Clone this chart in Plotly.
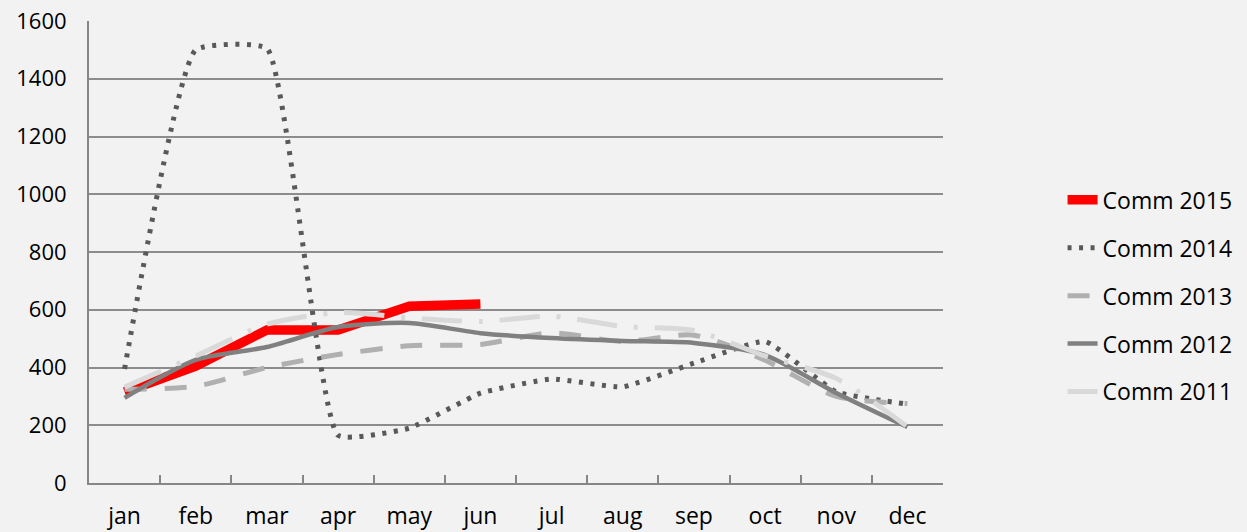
import plotly.graph_objects as go

months = ["jan", "feb", "mar", "apr", "may", "jun", "jul", "aug", "sep", "oct", "nov", "dec"]
comm_2015 = [315, 405, 530, 530, 612, 620]
comm_2014 = [395, 1500, 1505, 165, 190, 311, 360, 333, 415, 490, 316, 273]
comm_2013 = [325, 335, 400, 445, 475, 480, 520, 490, 512, 425, 300, 275]
comm_2012 = [295, 426, 471, 540, 554, 519, 502, 492, 485, 443, 312, 194]
comm_2011 = [332, 440, 550, 590, 572, 559, 578, 542, 528, 440, 362, 195]

FONT = "Open Sans"
fig = go.Figure()

series = [
    ("Comm 2015", months[:len(comm_2015)], comm_2015, dict(color="#FF0000", width=9.5), "linear", 0),
    ("Comm 2014", months, comm_2014, dict(color="#595959", width=5, dash="4px,7.5px"), "spline", 0.4),
    ("Comm 2013", months, comm_2013, dict(color="#B0B0B0", width=5, dash="22px,18px"), "spline", 0.7),
    ("Comm 2012", months, comm_2012, dict(color="#808080", width=4.5), "spline", 0.7),
    ("Comm 2011", months, comm_2011, dict(color="#D9D9D9", width=5, dash="40px,17px,4px,17px"), "spline", 0.7),
]
for name, xs, ys, line, shape, sm in series:
    line = dict(line, shape=shape)
    if shape == "spline":
        line["smoothing"] = sm
    fig.add_trace(go.Scatter(x=xs, y=ys, name=name, mode="lines", line=line,
                             legendgroup=name))

fig.update_layout(
    width=1247, height=532,
    paper_bgcolor="#F2F2F2", plot_bgcolor="#F2F2F2",
    margin=dict(l=89, r=304, t=21, b=49, autoexpand=False),
    font=dict(family=FONT, size=23, color="#000000"),
    showlegend=True,
    legend=dict(x=1.14, xanchor="left", y=0.405, yanchor="middle",
                bgcolor="rgba(0,0,0,0)", tracegroupgap=15,
                font=dict(family=FONT, size=23, color="#000000")),
    xaxis=dict(type="category", categoryorder="array", categoryarray=months,
               range=[-0.5, 11.5], showgrid=False, showline=True,
               linecolor="#868686", linewidth=2, ticks="inside", ticklen=8,
               tickcolor="#868686", tickwidth=1.5, tickson="boundaries",
               tickfont=dict(size=23), ticklabelstandoff=11, zeroline=False,
               automargin=False),
    yaxis=dict(range=[0, 1600], dtick=200, showgrid=True, gridcolor="#8C8C8C",
               gridwidth=1.5, showline=True, linecolor="#868686", linewidth=2,
               ticks="", tickfont=dict(size=22), zeroline=False,
               ticklabelstandoff=16, automargin=False),
)

fig.write_html(
    "out.html",
    config={"displayModeBar": False},
    post_script="document.body.style.margin='0';document.body.style.background='#F2F2F2';",
)
